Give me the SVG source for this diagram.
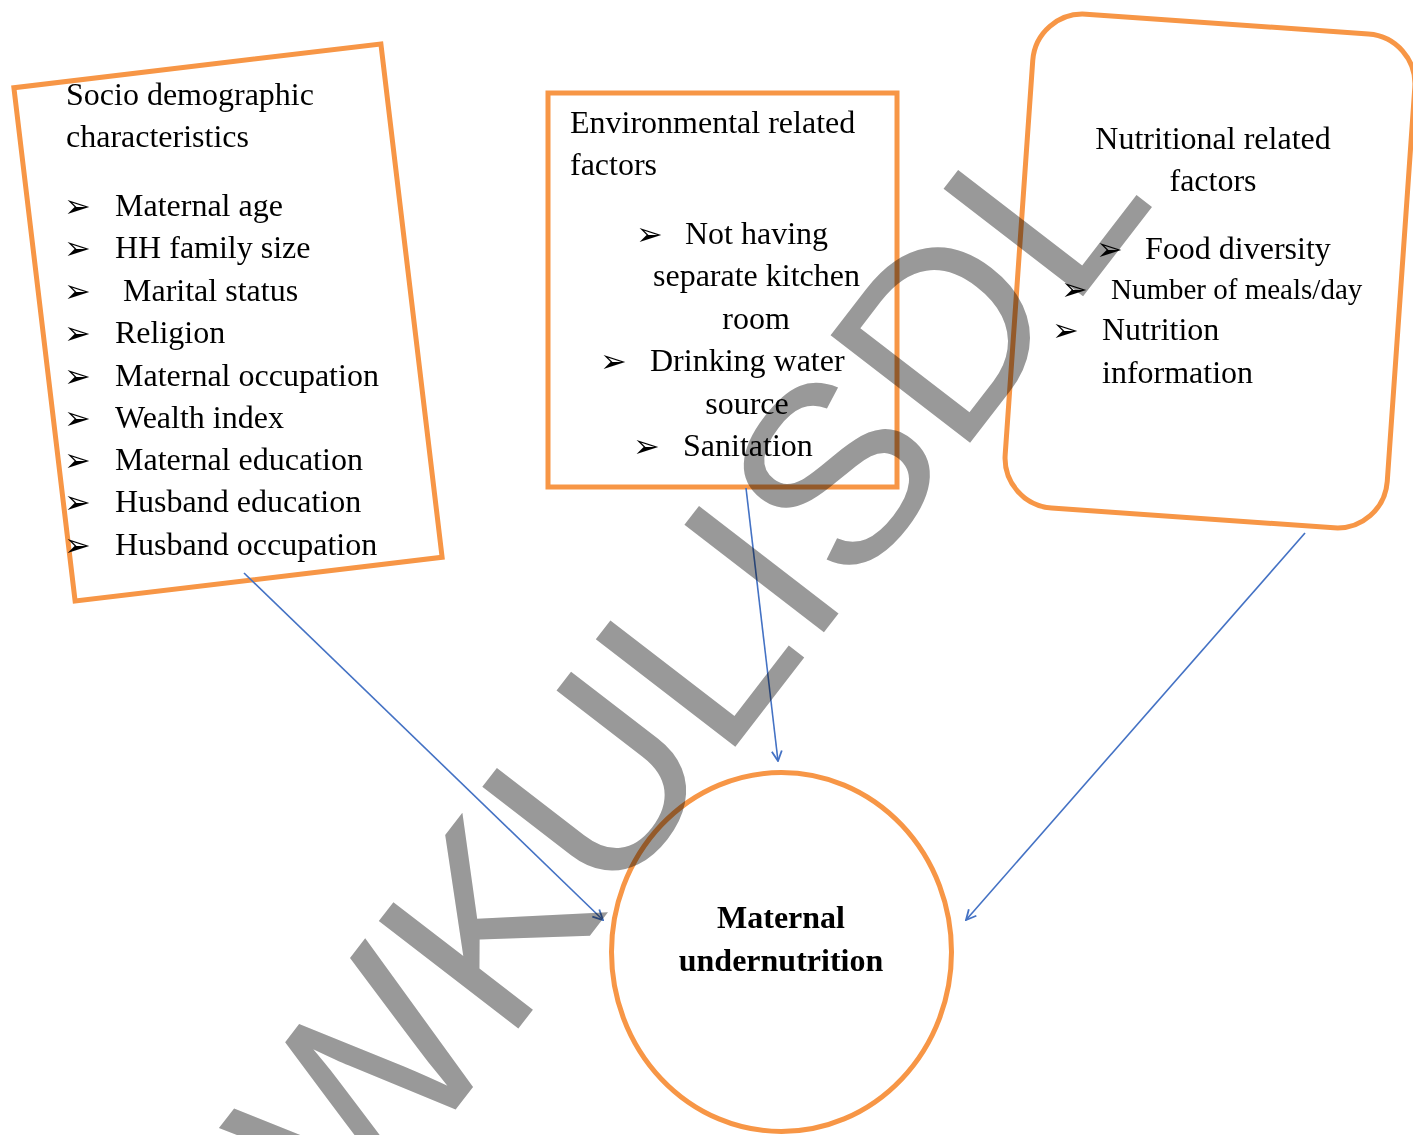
<svg xmlns="http://www.w3.org/2000/svg" width="1413" height="1135" viewBox="0 0 1413 1135">
<style>
.box{fill:#ffffff;stroke:#F79646;stroke-width:5}
.t{font-family:"Liberation Serif","Times New Roman",serif;font-size:32px;fill:#000}
.s{font-size:29px}
.b{font-family:"DejaVu Sans",sans-serif;font-size:32px;fill:#000}
.bold{font-weight:bold}
.mid{text-anchor:middle}
.conn{stroke:#4472C4;stroke-width:1.6;fill:none;marker-end:url(#arr)}
.wm{font-family:"Liberation Sans",Arial,sans-serif;font-size:256px;fill:#999999;mix-blend-mode:multiply}
</style>
<defs>
<marker id="arr" viewBox="0 0 12 12" refX="11" refY="6" markerWidth="12" markerHeight="12" markerUnits="userSpaceOnUse" orient="auto">
<path d="M1,1 L11,6 L1,11" fill="none" stroke="#4472C4" stroke-width="1.8"/>
</marker>
</defs>
<rect width="1413" height="1135" fill="#ffffff"/>

<g id="socio">
<rect class="box" x="-184.8" y="-258.5" width="369.6" height="517" transform="translate(228,322.5) rotate(-6.8)"/>
<text class="t" x="66" y="105">Socio demographic</text>
<text class="t" x="66" y="147">characteristics</text>
<text class="b" x="64" y="217">➢</text><text class="t" x="115" y="216">Maternal age</text>
<text class="b" x="64" y="259">➢</text><text class="t" x="115" y="258">HH family size</text>
<text class="b" x="64" y="302">➢</text><text class="t" x="123" y="301">Marital status</text>
<text class="b" x="64" y="344">➢</text><text class="t" x="115" y="343">Religion</text>
<text class="b" x="64" y="387">➢</text><text class="t" x="115" y="386">Maternal occupation</text>
<text class="b" x="64" y="429">➢</text><text class="t" x="115" y="428">Wealth index</text>
<text class="b" x="64" y="471">➢</text><text class="t" x="115" y="470">Maternal education</text>
<text class="b" x="64" y="513">➢</text><text class="t" x="115" y="512">Husband education</text>
<text class="b" x="64" y="556">➢</text><text class="t" x="115" y="555">Husband occupation</text>
</g>

<g id="environmental">
<rect class="box" x="548" y="93" width="349" height="394"/>
<text class="t" x="570" y="133">Environmental related</text>
<text class="t" x="570" y="175">factors</text>
<text class="b" x="636" y="245">➢</text><text class="t" x="685" y="244">Not having</text>
<text class="t" x="653" y="286">separate kitchen</text>
<text class="t mid" x="756" y="329">room</text>
<text class="b" x="600" y="372">➢</text><text class="t" x="650" y="371">Drinking water</text>
<text class="t mid" x="747" y="414">source</text>
<text class="b" x="633" y="457">➢</text><text class="t" x="683" y="456">Sanitation</text>
</g>

<g id="nutritional">
<rect class="box" x="-191.5" y="-247.5" width="383" height="495" rx="50" ry="50" transform="translate(1210,271) rotate(4)"/>
<text class="t mid" x="1213" y="149">Nutritional related</text>
<text class="t mid" x="1213" y="191">factors</text>
<text class="b" x="1096" y="260">➢</text><text class="t" x="1145" y="259">Food diversity</text>
<text class="b" x="1061" y="300">➢</text><text class="t s" x="1111" y="299">Number of meals/day</text>
<text class="b" x="1052" y="341">➢</text><text class="t" x="1102" y="340">Nutrition</text>
<text class="t" x="1102" y="383">information</text>
</g>

<g id="outcome">
<ellipse class="box" cx="781.5" cy="952" rx="170" ry="179.5"/>
<text class="t bold mid" x="781" y="928">Maternal</text>
<text class="t bold mid" x="781" y="971">undernutrition</text>
</g>

<g id="connectors">
<line class="conn" x1="244" y1="573" x2="603" y2="920"/>
<line class="conn" x1="746" y1="488" x2="778" y2="761"/>
<line class="conn" x1="1305" y1="533" x2="966" y2="920"/>
</g>

<g id="watermark">
<text class="wm" transform="translate(357.8,1236.5) rotate(-52.35)">WKULISDL</text>
</g>
</svg>
